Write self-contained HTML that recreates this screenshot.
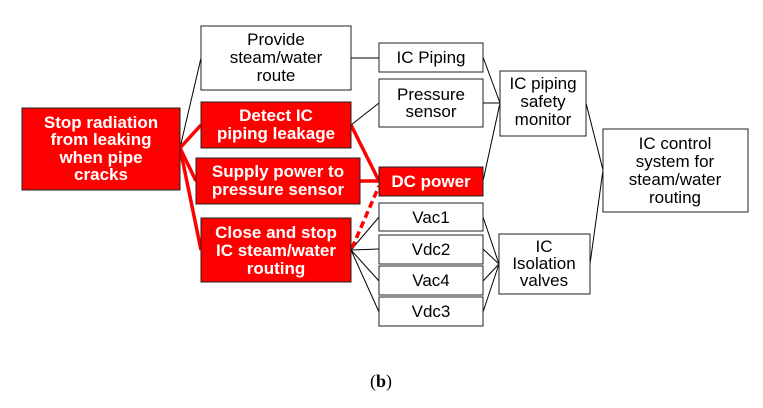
<html><body style="margin:0;background:#fff">
<svg width="763" height="408" xmlns="http://www.w3.org/2000/svg" font-family="Liberation Sans, Arial, sans-serif" font-size="17" text-anchor="middle">
<g stroke="#000" stroke-width="1" fill="none">
<line x1="180" y1="148" x2="201" y2="58"/>
<line x1="351" y1="58" x2="379" y2="58"/>
<line x1="351" y1="125" x2="379" y2="103"/>
<line x1="351" y1="250" x2="379" y2="217"/>
<line x1="351" y1="250" x2="379" y2="249"/>
<line x1="351" y1="250" x2="379" y2="281"/>
<line x1="351" y1="250" x2="379" y2="312"/>
<line x1="483" y1="57" x2="500" y2="103"/>
<line x1="483" y1="103" x2="500" y2="103"/>
<line x1="483" y1="181" x2="500" y2="103"/>
<line x1="483" y1="217" x2="499" y2="264"/>
<line x1="483" y1="249" x2="499" y2="264"/>
<line x1="483" y1="281" x2="499" y2="264"/>
<line x1="483" y1="312" x2="499" y2="264"/>
<line x1="586" y1="103" x2="603" y2="170"/>
<line x1="590" y1="264" x2="603" y2="170"/>
</g>
<g stroke="#f00" stroke-width="3.5" fill="none">
<line x1="180" y1="148" x2="201" y2="125"/>
<line x1="180" y1="148" x2="196" y2="181"/>
<line x1="180" y1="148" x2="201" y2="250"/>
<line x1="351" y1="125" x2="379" y2="181"/>
<line x1="360" y1="181" x2="379" y2="181"/>
<line x1="352" y1="248" x2="379" y2="186" stroke-dasharray="7,4"/>
</g>
<g stroke="#222" stroke-width="1">
<rect x="22" y="108" width="158" height="82" fill="#f00"/>
<rect x="201" y="26" width="150" height="64" fill="#fff"/>
<rect x="201" y="102" width="150" height="46" fill="#f00"/>
<rect x="196" y="158" width="164" height="46" fill="#f00"/>
<rect x="201" y="218" width="150" height="64" fill="#f00"/>
<rect x="379" y="43" width="104" height="29" fill="#fff"/>
<rect x="379" y="79" width="104" height="48" fill="#fff"/>
<rect x="379" y="167" width="104" height="29" fill="#f00"/>
<rect x="379" y="203" width="104" height="28" fill="#fff"/>
<rect x="379" y="235" width="104" height="29" fill="#fff"/>
<rect x="379" y="266" width="104" height="29" fill="#fff"/>
<rect x="379" y="297" width="104" height="29" fill="#fff"/>
<rect x="500" y="71" width="86" height="65" fill="#fff"/>
<rect x="499" y="234" width="91" height="60" fill="#fff"/>
<rect x="603" y="129" width="145" height="83" fill="#fff"/>
</g>
<g fill="#fff" font-weight="bold">
<text x="101" y="128">Stop radiation</text><text x="101" y="145">from leaking</text><text x="101" y="163">when pipe</text><text x="101" y="180">cracks</text>
<text x="276" y="121">Detect IC</text><text x="276" y="139">piping leakage</text>
<text x="278" y="177">Supply power to</text><text x="278" y="195">pressure sensor</text>
<text x="276" y="238">Close and stop</text><text x="276" y="256">IC steam/water</text><text x="276" y="274">routing</text>
<text x="431" y="187">DC power</text>
</g>
<g fill="#000">
<text x="276" y="45">Provide</text><text x="276" y="63">steam/water</text><text x="276" y="81">route</text>
<text x="431" y="63">IC Piping</text>
<text x="431" y="100">Pressure</text><text x="431" y="117">sensor</text>
<text x="431" y="223">Vac1</text><text x="431" y="255">Vdc2</text><text x="431" y="286">Vac4</text><text x="431" y="317">Vdc3</text>
<text x="543" y="89">IC piping</text><text x="543" y="107">safety</text><text x="543" y="125">monitor</text>
<text x="544" y="252">IC</text><text x="544" y="269">Isolation</text><text x="544" y="286">valves</text>
<text x="675" y="149">IC control</text><text x="675" y="167">system for</text><text x="675" y="185">steam/water</text><text x="675" y="203">routing</text>
<text x="381" y="387" font-family="Liberation Serif, serif" font-size="18">(<tspan font-weight="bold">b</tspan>)</text>
</g>
</svg>
</body></html>
